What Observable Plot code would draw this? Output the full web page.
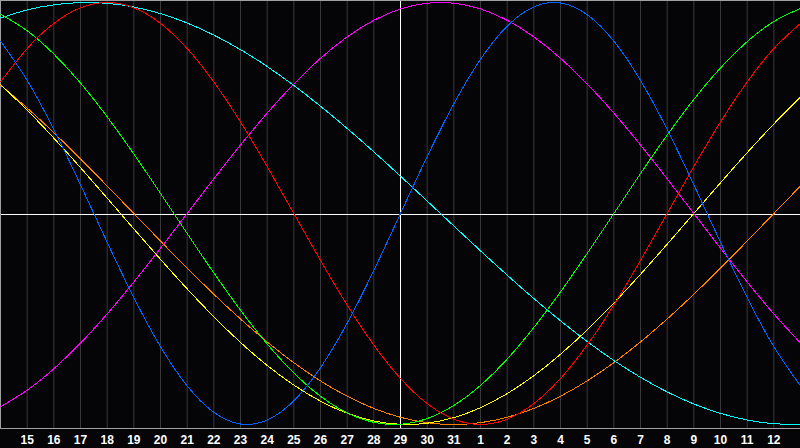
<!DOCTYPE html>
<html>
<head>
<meta charset="utf-8">
<script src="https://cdn.jsdelivr.net/npm/d3@7"></script>
<script src="https://cdn.jsdelivr.net/npm/@observablehq/plot@0.6"></script>
<style>
html, body { margin: 0; padding: 0; background: #050508; overflow: hidden; }
#chart svg { display: block; }
</style>
</head>
<body>
<div id="chart"></div>
<script>
// Day slots across the chart (slot 0 = left edge, slot 30 = right edge)
const daySlots = [0,1,2,3,4,5,6,7,8,9,10,11,12,13,14,15,16,17,18,19,20,21,22,23,24,25,26,27,28,29,30];
// Tick labels at slots 1..29
const tickSlots = [1,2,3,4,5,6,7,8,9,10,11,12,13,14,15,16,17,18,19,20,21,22,23,24,25,26,27,28,29];
const dayLabels = ["15","16","17","18","19","20","21","22","23","24","25","26","27","28","29","30","31",
                   "1","2","3","4","5","6","7","8","9","10","11","12"];
const todaySlot = [15];

// Cycle values read per day (range -1..1)
const physical = [0.8170,0.6311,0.3984,0.1362,-0.1362,-0.3984,-0.6311,-0.8170,-0.9423,-0.9977,-0.9791,-0.8879,-0.7308,-0.5196,-0.2698,0,
                  0.2698,0.5196,0.7308,0.8879,0.9791,0.9977,0.9423,0.8170,0.6311,0.3984,0.1362,-0.1362,-0.3984,-0.6311,-0.8170];
const emotional = [0.6235,0.7818,0.9010,0.9749,1,0.9749,0.9010,0.7818,0.6235,0.4339,0.2225,0,-0.2225,-0.4339,-0.6235,-0.7818,
                   -0.9010,-0.9749,-1,-0.9749,-0.9010,-0.7818,-0.6235,-0.4339,-0.2225,0,0.2225,0.4339,0.6235,0.7818,0.9010];
const intellectual = [0.9450,0.8660,0.7557,0.6182,0.4582,0.2817,0.0951,-0.0951,-0.2817,-0.4582,-0.6182,-0.7557,-0.8660,-0.9450,-0.9898,-0.9989,
                      -0.9718,-0.9097,-0.8146,-0.6901,-0.5406,-0.3717,-0.1893,0,0.1893,0.3717,0.5406,0.6901,0.8146,0.9097,0.9718];
const intuitive = [-0.9158,-0.8372,-0.7357,-0.6142,-0.4759,-0.3247,-0.1646,0,0.1646,0.3247,0.4759,0.6142,0.7357,0.8372,0.9158,0.9694,
                   0.9966,0.9966,0.9694,0.9158,0.8372,0.7357,0.6142,0.4759,0.3247,0.1646,0,-0.1646,-0.3247,-0.4759,-0.6142];
const aesthetic = [0.6112,0.4894,0.3572,0.2174,0.0730,-0.0730,-0.2174,-0.3572,-0.4894,-0.6112,-0.7199,-0.8133,-0.8894,-0.9465,-0.9834,-0.9993,
                   -0.9940,-0.9675,-0.9203,-0.8536,-0.7687,-0.6673,-0.5518,-0.4245,-0.2881,-0.1456,0,0.1456,0.2881,0.4245,0.5518];
const awareness = [0.6088,0.5,0.3827,0.2588,0.1305,0,-0.1305,-0.2588,-0.3827,-0.5,-0.6088,-0.7071,-0.7934,-0.8660,-0.9239,-0.9659,
                   -0.9914,-1,-0.9914,-0.9659,-0.9239,-0.8660,-0.7934,-0.7071,-0.6088,-0.5,-0.3827,-0.2588,-0.1305,0,0.1305];
const spiritual = [0.9267,0.9647,0.9890,0.9996,0.9961,0.9786,0.9473,0.9028,0.8456,0.7765,0.6966,0.6068,0.5085,0.4031,0.2921,0.1769,
                   0.0592,-0.0592,-0.1769,-0.2921,-0.4031,-0.5085,-0.6068,-0.6966,-0.7765,-0.8456,-0.9028,-0.9473,-0.9786,-0.9961,-0.9996];

const cycleNames = ["spiritual","awareness","aesthetic","intuitive","intellectual","emotional","physical"];
const cycleColors = ["#00ffff","#ff8000","#ffff00","#ff00ff","#00ff00","#ff0000","#0064ff"];
const cycleValues = [spiritual, awareness, aesthetic, intuitive, intellectual, emotional, physical];

const rows = cycleValues.flatMap((vals, s) =>
  vals.map((v, i) => ({slot: daySlots[i], value: v, cycle: cycleNames[s]})));

const gridSlots = tickSlots.filter(d => d !== todaySlot[0]);
const yTop = 1.0095, yBottom = -1.019;

const chart = Plot.plot({
  width: 800,
  height: 448,
  marginLeft: 0,
  marginRight: 0,
  marginTop: 0,
  marginBottom: 20,
  style: {background: "#050508", color: "white", fontFamily: "'Liberation Sans', Arial, sans-serif", overflow: "hidden"},
  x: {domain: [0, 30], axis: null},
  y: {domain: [yBottom, yTop], axis: null},
  color: {domain: cycleNames, range: cycleColors},
  marks: [
    Plot.ruleX(gridSlots, {stroke: "#3a3a3a", strokeWidth: 1}),
    Plot.ruleX(todaySlot, {stroke: "#ffffff", strokeWidth: 1}),
    Plot.ruleY([0], {stroke: "#ffffff", strokeWidth: 1, dy: 1}),
    Plot.ruleX([0], {stroke: "#a0a0a0", strokeWidth: 1}),
    Plot.ruleY([yTop, yBottom], {stroke: "#a0a0a0", strokeWidth: 1}),
    Plot.line(rows, {x: "slot", y: "value", z: "cycle", stroke: "cycle", curve: "natural", strokeWidth: 1, shapeRendering: "crispEdges"}),
    Plot.axisX(tickSlots, {
      tickSize: 0,
      tickPadding: 7,
      tickFormat: d => dayLabels[d - 1],
      fontSize: 12,
      fontWeight: "bold",
      fill: "#ffffff",
      label: null
    })
  ]
});
document.getElementById("chart").appendChild(chart);
</script>
</body>
</html>
